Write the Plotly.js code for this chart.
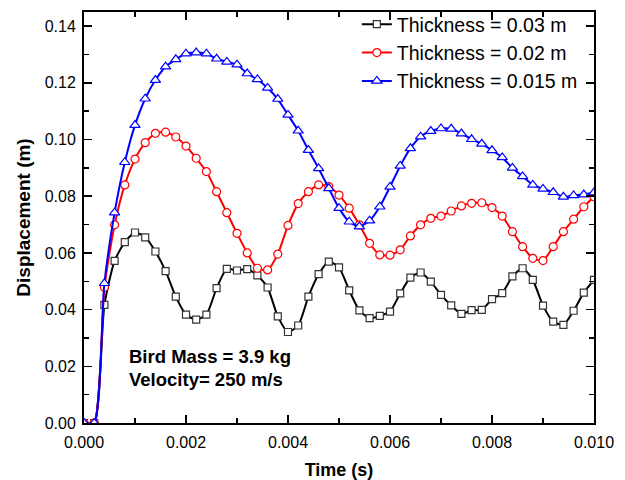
<!DOCTYPE html>
<html>
<head>
<meta charset="utf-8">
<script src="https://cdn.plot.ly/plotly-3.0.1.min.js"></script>
<style>html,body{margin:0;padding:0;background:#fff;}#chart{width:625px;height:480px;}</style>
</head>
<body>
<div id="chart"></div>
<script>
// Time (s)
const time = [0, 0.0002, 0.0004, 0.0006, 0.0008, 0.0010, 0.0012, 0.0014, 0.0016, 0.0018,
  0.0020, 0.0022, 0.0024, 0.0026, 0.0028, 0.0030, 0.0032, 0.0034, 0.0036, 0.0038,
  0.0040, 0.0042, 0.0044, 0.0046, 0.0048, 0.0050, 0.0052, 0.0054, 0.0056, 0.0058,
  0.0060, 0.0062, 0.0064, 0.0066, 0.0068, 0.0070, 0.0072, 0.0074, 0.0076, 0.0078,
  0.0080, 0.0082, 0.0084, 0.0086, 0.0088, 0.0090, 0.0092, 0.0094, 0.0096, 0.0098, 0.0100];

// Displacement (m), thickness = 0.03 m
const disp003 = [0, 0, 0.0417, 0.0572, 0.0638, 0.0672, 0.0655, 0.0605, 0.0536, 0.0446,
  0.0382, 0.0365, 0.0382, 0.0476, 0.0544, 0.0538, 0.0543, 0.0521, 0.0478, 0.0376,
  0.0321, 0.0344, 0.0446, 0.0525, 0.0569, 0.0549, 0.0468, 0.0397, 0.0370, 0.0378,
  0.0393, 0.0457, 0.0513, 0.0531, 0.0499, 0.0452, 0.0415, 0.0385, 0.0398, 0.0399,
  0.0437, 0.0458, 0.0517, 0.0546, 0.0505, 0.0414, 0.0358, 0.0346, 0.0396, 0.0460, 0.0505];

// Displacement (m), thickness = 0.02 m
const disp002 = [0, 0, 0.0479, 0.0699, 0.0840, 0.0931, 0.0989, 0.1022, 0.1026, 0.1009,
  0.0977, 0.0934, 0.0887, 0.0816, 0.0742, 0.0669, 0.0600, 0.0546, 0.0540, 0.0596,
  0.0697, 0.0774, 0.0816, 0.0840, 0.0834, 0.0804, 0.0758, 0.0699, 0.0634, 0.0593,
  0.0592, 0.0611, 0.0660, 0.0699, 0.0722, 0.0730, 0.0748, 0.0766, 0.0775, 0.0777,
  0.0760, 0.0730, 0.0675, 0.0622, 0.0581, 0.0573, 0.0622, 0.0675, 0.0719, 0.0763, 0.0798];

// Displacement (m), thickness = 0.015 m
const disp0015 = [0, 0, 0.0493, 0.0742, 0.0920, 0.1051, 0.1144, 0.1210, 0.1257, 0.1283,
  0.1303, 0.1307, 0.1303, 0.1285, 0.1274, 0.1264, 0.1233, 0.1212, 0.1182, 0.1143,
  0.1087, 0.1031, 0.0963, 0.0898, 0.0828, 0.0758, 0.0710, 0.0693, 0.0714, 0.0763,
  0.0833, 0.0907, 0.0969, 0.1010, 0.1030, 0.1039, 0.1038, 0.1021, 0.1001, 0.0985,
  0.0962, 0.0937, 0.0900, 0.0870, 0.0840, 0.0826, 0.0814, 0.0798, 0.0803, 0.0806, 0.0813];

const seriesNames = ["Thickness = 0.03 m", "Thickness = 0.02 m", "Thickness = 0.015 m"];
const xTitle = "Time (s)";
const yTitle = "Displacement (m)";
const noteLines = ["Bird Mass = 3.9 kg", "Velocity= 250 m/s"];

const FONT = "Liberation Sans, Arial, Helvetica, sans-serif";

function mk(y, name, color, symbol, size, mlc) {
  return {
    x: time, y: y, name: name, type: "scatter", mode: "lines+markers",
    line: {color: color, width: 2, shape: "spline", smoothing: 0.6},
    marker: {symbol: symbol, size: size, color: "#ffffff", line: {color: mlc, width: 1.2}}
  };
}

const traces = [
  mk(disp003, seriesNames[0], "#000000", "square", 7, "#333333"),
  mk(disp002, seriesNames[1], "#ff0000", "circle", 8, "#ff0000"),
  mk(disp0015, seriesNames[2], "#0000ff", "triangle-up", 9, "#0000ff")
];

const axisCommon = {
  showgrid: false, zeroline: false, showline: true, linecolor: "#000", linewidth: 2,
  mirror: "ticks", ticks: "inside", ticklen: 8, tickwidth: 1.5, tickcolor: "#000",
  tickfont: {family: FONT, size: 16, color: "#000"}, automargin: false
};

const layout = {
  width: 625, height: 480,
  margin: {l: 84, r: 31, t: 12, b: 57, autoexpand: false},
  paper_bgcolor: "#fff", plot_bgcolor: "#fff",
  font: {family: FONT, color: "#000"},
  showlegend: true,
  legend: {x: 0.535, y: 1.017, xanchor: "left", yanchor: "top", bgcolor: "rgba(0,0,0,0)",
    font: {family: FONT, size: 19.5, color: "#000"}, tracegroupgap: 0},
  xaxis: Object.assign({}, axisCommon, {
    range: [0, 0.010], dtick: 0.002, tick0: 0, tickformat: ".3f",
    minor: {dtick: 0.001, ticks: "inside", ticklen: 5, tickwidth: 1.5, tickcolor: "#000"},
    ticklabelstandoff: 4,
    title: {text: xTitle, font: {family: FONT, size: 18, weight: 700}, standoff: 14}
  }),
  yaxis: Object.assign({}, axisCommon, {
    range: [0, 0.145], dtick: 0.02, tick0: 0, tickformat: ".2f",
    minor: {dtick: 0.01, ticks: "inside", ticklen: 5, tickwidth: 1.5, tickcolor: "#000"},
    ticklabelstandoff: 3,
    title: {text: yTitle, font: {family: FONT, size: 19, weight: 700}, standoff: 9}
  }),
  annotations: [
    {xref: "paper", yref: "paper", x: 0.084, y: 0.161, xanchor: "left", yanchor: "middle",
     text: noteLines[0], showarrow: false, font: {family: FONT, size: 18.5, weight: 700, color: "#000"}},
    {xref: "paper", yref: "paper", x: 0.084, y: 0.105, xanchor: "left", yanchor: "middle",
     text: noteLines[1], showarrow: false, font: {family: FONT, size: 18.5, weight: 700, color: "#000"}}
  ]
};

Plotly.newPlot("chart", traces, layout, {displayModeBar: false, staticPlot: true});
</script>
</body>
</html>
